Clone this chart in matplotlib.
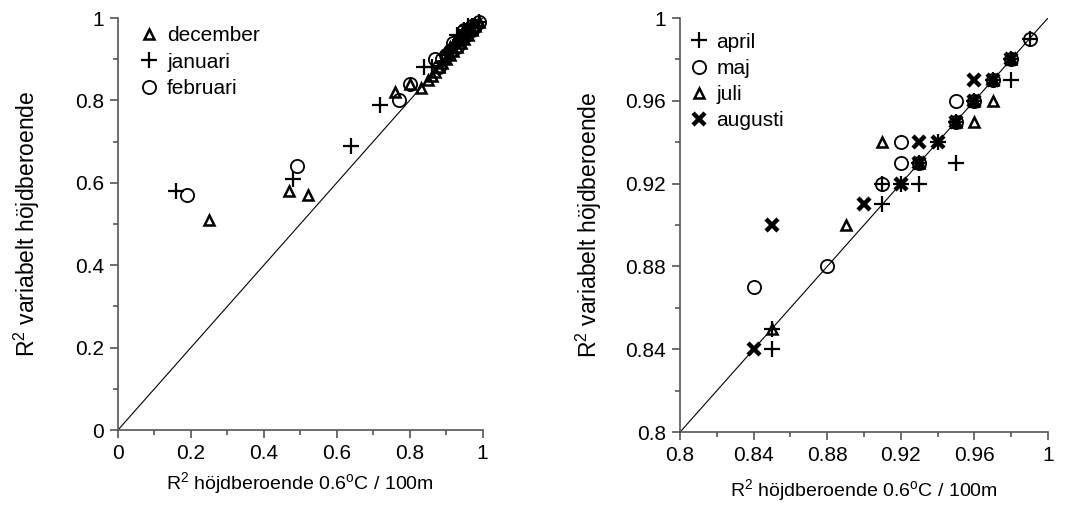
import matplotlib
matplotlib.use('Agg')
import matplotlib.pyplot as plt
import matplotlib.ticker as ticker

plt.rcParams['font.family'] = ['Liberation Sans', 'DejaVu Sans']
plt.rcParams['mathtext.default'] = 'regular'

# vinter (vänster panel)
dec_x = [0.25, 0.47, 0.52, 0.76, 0.80, 0.83, 0.85, 0.86, 0.87, 0.88, 0.89, 0.90, 0.91,
         0.92, 0.93, 0.93, 0.94, 0.95, 0.95, 0.96, 0.97, 0.98, 0.99, 0.91, 0.94]
dec_y = [0.51, 0.58, 0.57, 0.82, 0.84, 0.83, 0.85, 0.86, 0.87, 0.88, 0.89, 0.90, 0.91,
         0.92, 0.93, 0.95, 0.94, 0.95, 0.96, 0.96, 0.97, 0.98, 0.99, 0.93, 0.96]
jan_x = [0.16, 0.48, 0.64, 0.72, 0.84, 0.86, 0.89, 0.90, 0.91, 0.92, 0.93, 0.94, 0.95,
         0.96, 0.97, 0.98, 0.99, 0.93, 0.96]
jan_y = [0.58, 0.61, 0.69, 0.79, 0.88, 0.88, 0.89, 0.91, 0.92, 0.93, 0.96, 0.95, 0.97,
         0.96, 0.98, 0.98, 0.99, 0.94, 0.98]
feb_x = [0.19, 0.49, 0.77, 0.80, 0.87, 0.88, 0.90, 0.91, 0.92, 0.93, 0.94, 0.95, 0.96,
         0.97, 0.97, 0.98, 0.99, 0.89, 0.95]
feb_y = [0.57, 0.64, 0.80, 0.84, 0.90, 0.88, 0.91, 0.92, 0.94, 0.93, 0.95, 0.96, 0.97,
         0.97, 0.98, 0.98, 0.99, 0.90, 0.97]

# sommar (höger panel)
apr_x = [0.85, 0.85, 0.91, 0.91, 0.92, 0.93, 0.93, 0.95, 0.94, 0.95, 0.96, 0.97, 0.98, 0.98, 0.99]
apr_y = [0.84, 0.85, 0.91, 0.92, 0.92, 0.92, 0.93, 0.93, 0.94, 0.95, 0.96, 0.97, 0.97, 0.98, 0.99]
maj_x = [0.84, 0.88, 0.91, 0.92, 0.93, 0.92, 0.95, 0.95, 0.96, 0.97, 0.98, 0.99]
maj_y = [0.87, 0.88, 0.92, 0.93, 0.93, 0.94, 0.95, 0.96, 0.96, 0.97, 0.98, 0.99]
jul_x = [0.85, 0.89, 0.91, 0.93, 0.95, 0.96, 0.96, 0.97, 0.97, 0.98]
jul_y = [0.85, 0.90, 0.94, 0.93, 0.95, 0.95, 0.96, 0.96, 0.97, 0.98]
aug_x = [0.84, 0.85, 0.90, 0.92, 0.93, 0.93, 0.94, 0.95, 0.96, 0.96, 0.97, 0.98]
aug_y = [0.84, 0.90, 0.91, 0.92, 0.93, 0.94, 0.94, 0.95, 0.96, 0.97, 0.97, 0.98]

xlabel = r'R$^2$ höjdberoende 0.6$^o$C / 100m'
ylabel = r'R$^2$ variabelt höjdberoende'

tri = dict(marker='^', ms=7.5, mfc='none', mec='black', mew=1.8, ls='none', clip_on=False)
plus = dict(marker='+', ms=11, mec='black', mew=1.6, ls='none', clip_on=False)
circ = dict(marker='o', ms=9.5, mfc='none', mec='black', mew=1.3, ls='none', clip_on=False)
cross = dict(marker='x', ms=8.5, mec='black', mew=3.2, ls='none', clip_on=False)


def style_axes(ax, lo, major, minor, xpad):
    ax.set_xlim(lo, 1)
    ax.set_ylim(lo, 1)
    ax.spines['top'].set_visible(False)
    ax.spines['right'].set_visible(False)
    for s in ['left', 'bottom']:
        ax.spines[s].set_color('#555555')
        ax.spines[s].set_linewidth(1.2)
    ax.xaxis.set_major_locator(ticker.MultipleLocator(major))
    ax.yaxis.set_major_locator(ticker.MultipleLocator(major))
    ax.xaxis.set_minor_locator(ticker.MultipleLocator(minor))
    ax.yaxis.set_minor_locator(ticker.MultipleLocator(minor))
    fmt = ticker.FuncFormatter(lambda v, p: '%g' % round(v, 3))
    ax.xaxis.set_major_formatter(fmt)
    ax.yaxis.set_major_formatter(fmt)
    ax.tick_params(which='major', direction='out', length=6, width=1.2, color='#555555',
                   labelsize=15, pad=4)
    ax.tick_params(which='minor', direction='out', length=3.5, width=1.2, color='#555555')
    ax.plot([lo, 1], [lo, 1], color='black', lw=0.8)
    ax.set_xlabel(xlabel, fontsize=14, labelpad=xpad)
    ax.set_ylabel(ylabel, fontsize=16.5)
    # högerkanten av etiketten (texten är roterad)
    ax.yaxis.set_label_coords(-0.207, 0.5)


def add_legend(ax, left, top):
    ax.legend(loc='upper left', frameon=False, fontsize=15, handletextpad=0.35,
              handlelength=1.0, labelspacing=0.35, borderaxespad=0.0,
              bbox_to_anchor=(left, top))


fig = plt.figure(figsize=(10.82, 5.15), dpi=100)
ax1 = fig.add_axes([0.109, 0.165, 0.337, 0.80])
ax2 = fig.add_axes([0.6285, 0.161, 0.340, 0.804])

style_axes(ax1, 0, 0.2, 0.1, 5)
ax1.plot(dec_x, dec_y, label='december', **tri)
ax1.plot(jan_x, jan_y, label='januari', **plus)
ax1.plot(feb_x, feb_y, label='februari', **circ)
add_legend(ax1, 0.035, 1.0)

style_axes(ax2, 0.8, 0.04, 0.02, 9)
ax2.plot(apr_x, apr_y, label='april', **plus)
ax2.plot(maj_x, maj_y, label='maj', **circ)
ax2.plot(jul_x, jul_y, label='juli', **tri)
ax2.plot(aug_x, aug_y, label='augusti', **cross)
add_legend(ax2, 0.0, 0.985)

plt.savefig('out.png', dpi=100)
